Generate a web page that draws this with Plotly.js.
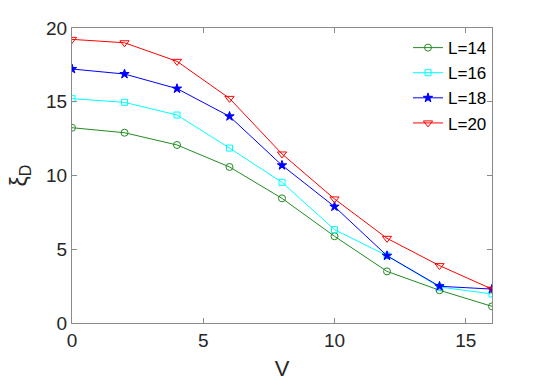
<!DOCTYPE html>
<html>
<head>
<meta charset="utf-8">
<script src="https://cdn.plot.ly/plotly-3.0.1.min.js"></script>
<style>
  html, body { margin: 0; padding: 0; background: #fff; }
  #chart { width: 545px; height: 386px; }
</style>
</head>
<body>
<div id="chart"></div>
<script>
// V values shared by all curves
const vValues = [0, 2, 4, 6, 8, 10, 12, 14, 16];

// xi_D for each system size
const xiL14 = [13.24, 12.9, 12.07, 10.58, 8.45, 5.88, 3.5, 2.22, 1.13];
const xiL16 = [15.21, 14.96, 14.1, 11.86, 9.54, 6.33, 4.56, 2.44, 1.97];
const xiL18 = [17.22, 16.88, 15.89, 14.01, 10.69, 7.89, 4.56, 2.49, 2.3];
const xiL20 = [19.23, 19.0, 17.74, 15.23, 11.46, 8.41, 5.74, 3.89, 2.3];

const seriesNames = ['L=14', 'L=16', 'L=18', 'L=20'];
const seriesData = [xiL14, xiL16, xiL18, xiL20];
const colori = ['#228B22', '#00FFFF', '#0000FF', '#FF0000'];
const simboli = ['circle-open', 'square-open', 'star', 'triangle-down-open'];
const dimensioni = [7, 6, 7, 8];

const traces = seriesNames.map((nome, i) => ({
  x: vValues,
  y: seriesData[i],
  type: 'scatter',
  mode: 'lines+markers',
  name: nome,
  line: { color: colori[i], width: 1 },
  marker: {
    symbol: simboli[i],
    size: dimensioni[i],
    color: colori[i],
    line: { color: colori[i], width: 1 }
  }
}));

const font = 'Liberation Sans, Arial, sans-serif';

const asse = {
  showline: true,
  linecolor: '#8a8a8a',
  linewidth: 1,
  mirror: 'ticks',
  ticks: 'inside',
  ticklen: 5,
  tickcolor: '#8a8a8a',
  showgrid: false,
  zeroline: false,
  tickfont: { family: font, size: 19, color: '#262626' }
};

Plotly.newPlot('chart', traces, {
  width: 545,
  height: 386,
  margin: { l: 72, r: 53, t: 28, b: 63 },
  paper_bgcolor: '#fff',
  plot_bgcolor: '#fff',
  showlegend: true,
  legend: {
    x: 0.8, y: 0.993,
    xanchor: 'left', yanchor: 'top',
    bgcolor: 'rgba(0,0,0,0)',
    borderwidth: 0,
    tracegroupgap: 0,
    itemwidth: 30,
    font: { family: font, size: 17, color: '#000' }
  },
  xaxis: Object.assign({}, asse, {
    range: [0, 16],
    tickvals: [0, 5, 10, 15],
    title: { text: 'V', font: { family: font, size: 22, color: '#262626' }, standoff: 10 }
  }),
  yaxis: Object.assign({}, asse, {
    range: [0, 20],
    tickvals: [0, 5, 10, 15, 20],
    title: { text: 'ξ<sub>D</sub>', font: { family: font, size: 23, color: '#262626' }, standoff: 12 }
  })
}, { displayModeBar: false, staticPlot: true });
</script>
</body>
</html>
